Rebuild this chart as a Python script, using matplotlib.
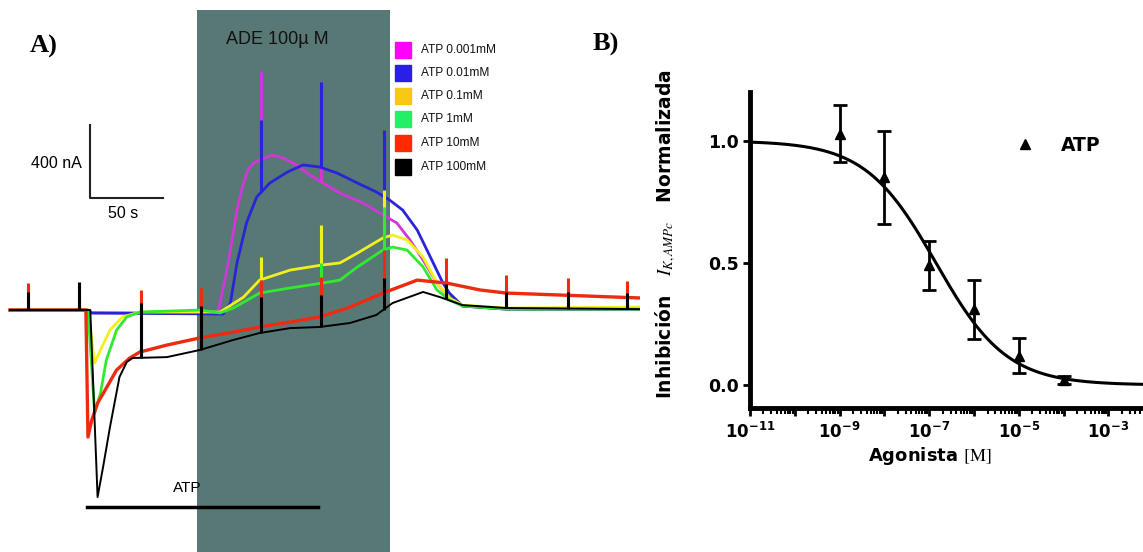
import numpy as np
import matplotlib.pyplot as plt
from matplotlib.patches import Rectangle
from matplotlib.ticker import LogLocator, NullFormatter

plt.rcParams['font.family'] = ['Liberation Sans', 'DejaVu Sans']
plt.rcParams['mathtext.fontset'] = 'dejavusans'

# ---------------- panel A: whole-cell currents (t in s, I in nA) ----------------
trace_labels = ['ATP 0.001mM', 'ATP 0.01mM', 'ATP 0.1mM', 'ATP 1mM', 'ATP 10mM', 'ATP 100mM']
legend_colors = ['#ff00ff', '#2a1fe6', '#f8c814', '#22ee66', '#ff2a00', '#000000']
trace_colors = ['#cf38d8', '#2a24d8', '#f0f01e', '#30ea30', '#ee2a10', '#000000']
trace_widths = [2.0, 2.0, 2.0, 2.0, 2.4, 1.4]

t_mag = [0, 53.4, 56, 142.5, 149, 155.5, 159, 163, 167, 171, 179.5, 187, 196.5, 205.5, 214.4, 226, 242,
         255.5, 265, 274, 283, 292.5, 299, 310, 340, 432]
i_mag = [0, 0, -16, -16, 236, 548, 669, 767, 806, 822, 849, 833, 795, 740, 696, 641, 586,
         521, 477, 384, 274, 148, 82, 22, 5, 5]

t_blue = [0, 53.4, 56, 146, 151, 155.5, 162, 169, 178, 190, 200.7, 212, 224, 238, 251,
          260, 269, 279, 288, 296.6, 301, 310, 340, 432]
i_blue = [0, 0, -16, -22, 38, 258, 477, 619, 696, 756, 795, 784, 751, 696, 647,
          603, 548, 438, 290, 148, 93, 22, 5, 5]

t_yel = [0, 53.4, 58, 62, 68.5, 77, 89, 144, 160, 171, 192, 214, 226, 238, 255.5,
         262, 272, 283, 292.5, 301, 310, 340, 432]
i_yel = [0, 0, -290, -219, -110, -38, -11, -11, 71, 164, 219, 247, 258, 312, 395,
         411, 384, 290, 148, 66, 27, 11, 16]

t_grn = [0, 53.4, 58, 62, 66, 73, 80, 89, 130, 144, 153, 171, 192, 214, 226, 238,
         255.5, 262, 272, 283, 292.5, 301, 310, 340, 432]
i_grn = [0, 0, -564, -455, -274, -110, -38, -11, 0, -16, 11, 93, 121, 148, 164, 236,
         329, 345, 329, 236, 110, 55, 22, 5, 5]

t_red = [0, 52, 53.4, 56, 60, 64, 73, 82, 89, 107.5, 130, 153, 171, 192, 212, 233,
         255.5, 279, 292.5, 299, 322, 340, 432]
i_red = [0, 0, -696, -603, -510, -455, -329, -263, -230, -192, -153, -121, -93, -66, -38, 16,
         93, 164, 153, 148, 110, 93, 66]

t_blk = [0, 55, 60, 64, 68.5, 75, 80, 84, 107.5, 130, 153, 171, 192, 212, 233, 251,
         262, 283, 294.5, 310, 340, 432]
i_blk = [0, 0, -1025, -850, -641, -367, -285, -263, -258, -219, -164, -126, -99, -93, -71, -27,
         38, 99, 71, 27, 11, 5]

# stimulation artifacts (spikes) and their height on each trace, nA
spike_t = [12, 47, 90, 131, 172, 213, 256, 299, 340, 382, 423]
amp_mag = [20, 20, 20, 20, 485, 110, 100, 40, 20, 20, 20]
amp_blue = [20, 20, 20, 20, 395, 466, 362, 40, 20, 20, 20]
amp_yel = [50, 50, 60, 60, 126, 219, 263, 60, 50, 50, 50]
amp_grn = [50, 50, 80, 60, 70, 110, 236, 60, 50, 50, 50]
amp_red = [148, 148, 340, 274, 258, 219, 236, 137, 99, 93, 88]
amp_blk = [99, 153, 301, 236, 197, 175, 175, 82, 88, 88, 88]

ade_on, ade_off = 128, 260      # ADE 100 uM application (s)
atp_on, atp_off = 53, 211       # ATP application (s)

traces = [(t_mag, i_mag, amp_mag), (t_blue, i_blue, amp_blue), (t_yel, i_yel, amp_yel),
          (t_grn, i_grn, amp_grn), (t_red, i_red, amp_red), (t_blk, i_blk, amp_blk)]

# ---------------- panel B: concentration-response ----------------
conc = [1e-9, 1e-8, 1e-7, 1e-6, 1e-5, 1e-4]
inhib = [1.03, 0.85, 0.49, 0.31, 0.12, 0.02]
inhib_err = [0.115, 0.19, 0.10, 0.12, 0.072, 0.015]
fit_top, fit_bottom, fit_logic50, fit_hill = 1.0, 0.0, -6.85, 0.55

fig = plt.figure(figsize=(11.43, 5.52), dpi=100)

# ---- A ----
ax = fig.add_axes([0, 0, 640 / 1143, 1])
ax.set_xlim(-6.85, 431.6)
ax.set_ylim(-1326, 1699)
ax.axis('off')

ax.axvspan(ade_on, ade_off, ymin=0, ymax=0.982, color='#587876', lw=0, zorder=0)
ax.text(0.434, 0.928, 'ADE 100\u00b5 M', transform=ax.transAxes, ha='center', va='center',
        fontsize=13, color='#111111')

for k, (t, cur, amp) in enumerate(traces):
    z = 3 + k
    ax.plot(t, cur, color=trace_colors[k], lw=trace_widths[k], zorder=z, solid_joinstyle='round')
    base = np.interp(spike_t, t, cur)
    ax.vlines(spike_t, base, base + np.array(amp), color=trace_colors[k], lw=2.2, zorder=z)

# scale bars: 400 nA, 50 s
ax.plot([55, 55, 105], [1014, 614, 614], color='#222222', lw=1.5, zorder=10)
ax.text(82 / 640, 1 - 164 / 552, '400 nA', transform=ax.transAxes, ha='right', va='center', fontsize=11.5)
ax.text(123 / 640, 1 - 214 / 552, '50 s', transform=ax.transAxes, ha='center', va='center', fontsize=11.5)

# ATP application bar
ax.plot([atp_on, atp_off], [-1080, -1080], color='black', lw=2.5, zorder=10)
ax.text(187 / 640, 1 - 488 / 552, 'ATP', transform=ax.transAxes, ha='center', va='center', fontsize=11)

# legend
row_y = [50, 73, 96, 119, 143, 167]
for lab, col, py in zip(trace_labels, legend_colors, row_y):
    ax.add_patch(Rectangle((395 / 640, 1 - (py + 8) / 552), 16 / 640, 16 / 552,
                           transform=ax.transAxes, color=col, zorder=12))
    ax.text(421 / 640, 1 - py / 552, lab, transform=ax.transAxes, ha='left', va='center',
            fontsize=8.6, color='#111111', zorder=12)

ax.text(44 / 640, 1 - 46 / 552, 'A)', transform=ax.transAxes, ha='center', va='center',
        family='Liberation Serif', fontweight='bold', fontsize=19)

# ---- B ----
bx = fig.add_axes([750 / 1143, (552 - 408) / 552, 393 / 1143, 316 / 552])
bx.set_xscale('log')
bx.set_xlim(1e-11, 10 ** -2.23)
bx.set_ylim(-0.094, 1.2)
for s in ['top', 'right']:
    bx.spines[s].set_visible(False)
for s in ['left', 'bottom']:
    bx.spines[s].set_linewidth(3.5)

xs = np.logspace(-11, -2.23, 300)
fit = fit_bottom + (fit_top - fit_bottom) / (1 + 10 ** ((np.log10(xs) - fit_logic50) * fit_hill))
bx.plot(xs, fit, color='black', lw=2.2, zorder=3)
bx.errorbar(conc, inhib, yerr=inhib_err, fmt='^', color='black', ms=7, elinewidth=2,
            capsize=5, capthick=2, zorder=4, clip_on=False)

decades = [10.0 ** e for e in range(-11, -2)]
dec_labels = [r'$\mathbf{10^{%d}}$' % e if e % 2 else '' for e in range(-11, -2)]
bx.set_xticks(decades, labels=dec_labels, fontsize=12, fontweight='bold')
bx.xaxis.set_minor_locator(LogLocator(base=10, subs=np.arange(2, 10), numticks=50))
bx.xaxis.set_minor_formatter(NullFormatter())
bx.set_yticks([0, 0.5, 1.0], labels=['0.0', '0.5', '1.0'], fontsize=12.5, fontweight='bold',
              fontfamily='DejaVu Sans')
bx.tick_params(axis='x', which='major', length=6, width=2, pad=3)
bx.tick_params(axis='x', which='minor', length=4, width=1.5)
bx.tick_params(axis='y', length=5, width=2, pad=3)

bx.text(-0.213, 0.551, 'Inhibición   $I_{K,AMPc}$   Normalizada', transform=bx.transAxes,
        rotation=90, ha='center', va='center', fontsize=13.5, fontweight='bold',
        fontfamily='DejaVu Sans', math_fontfamily='stix')
bx.text(0.458, -0.152, r'Agonista $\mathrm{[M]}$', transform=bx.transAxes, ha='center', va='center',
        fontsize=13, fontweight='bold', fontfamily='DejaVu Sans', math_fontfamily='stix')

bx.plot([0.70], [0.835], marker='^', color='black', ms=6.5, transform=bx.transAxes, clip_on=False)
bx.text(0.79, 0.832, 'ATP', transform=bx.transAxes, ha='left', va='center', fontsize=13.5,
        fontweight='bold', fontfamily='DejaVu Sans')

fig.text(606 / 1143, 1 - 44 / 552, 'B)', ha='center', va='center', family='Liberation Serif',
         fontweight='bold', fontsize=19)

fig.savefig('out.png', dpi=100)
